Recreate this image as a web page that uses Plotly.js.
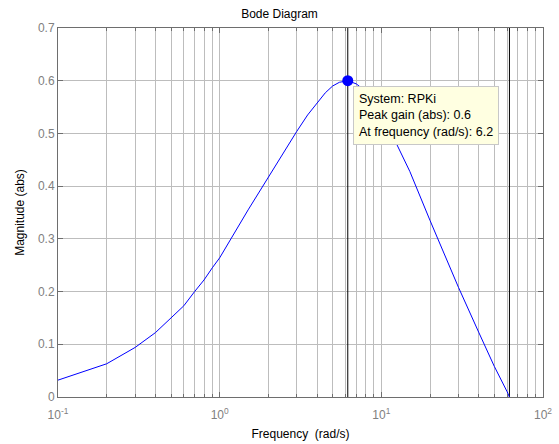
<!DOCTYPE html>
<html>
<head>
<meta charset="utf-8">
<script src="https://cdn.plot.ly/plotly-3.0.1.min.js"></script>
<style>
  html, body { margin: 0; padding: 0; background: #fff; }
  #chart { width: 559px; height: 444px; }
</style>
</head>
<body>
<div id="chart"></div>
<script>
// Magnitude response of RPKi (abs), sampled frequencies in rad/s
const freq = [0.1, 0.2, 0.3, 0.4, 0.5, 0.6, 0.7, 0.8, 0.9, 1,
              1.5, 2, 2.5, 3, 3.5, 4, 4.5, 5, 5.5, 6.2, 7, 8, 9, 10,
              15, 20, 30, 40, 50, 60, 62];
const magnitude = [0.032, 0.063, 0.094, 0.122, 0.150, 0.173, 0.200, 0.222, 0.245, 0.264,
                   0.355, 0.417, 0.466, 0.504, 0.535, 0.558, 0.577, 0.590, 0.597, 0.600,
                   0.594, 0.580, 0.562, 0.540,
                   0.428, 0.335, 0.208, 0.123, 0.058, 0.010, 0.0];

// Peak gain marker
const peakFreq = [6.2];
const peakGain = [0.6];

// Vertical reference lines (rad/s)
const refLines = [6.2, 62];

// Axis ticks
const xMajorTicks = [0.1, 1, 10, 100];
const xMajorLabels = ['10<sup>-1</sup>', '10<sup>0</sup>', '10<sup>1</sup>', '10<sup>2</sup>'];
const xMinorTicks = [0.2, 0.3, 0.4, 0.5, 0.6, 0.7, 0.8, 0.9,
                     2, 3, 4, 5, 6, 7, 8, 9,
                     20, 30, 40, 50, 60, 70, 80, 90];
const yTicks = [0, 0.1, 0.2, 0.3, 0.4, 0.5, 0.6, 0.7];
const yLabels = ['0', '0.1', '0.2', '0.3', '0.4', '0.5', '0.6', '0.7'];

const font = 'Arial, "Liberation Sans", sans-serif';
const gridColor = '#bdbdbd';
const frameColor = '#6e6e6e';

const traces = [];
refLines.forEach(f => {
  traces.push({
    x: [f, f], y: [0, 0.7], mode: 'lines',
    line: { color: '#000', width: 1 }, hoverinfo: 'skip', showlegend: false
  });
});
traces.push({
  x: freq, y: magnitude, mode: 'lines',
  line: { color: '#0000ff', width: 1 }, showlegend: false
});
traces.push({
  x: peakFreq, y: peakGain, mode: 'markers',
  marker: { color: '#0000ff', size: 11 }, showlegend: false
});

const layout = {
  width: 559, height: 444,
  margin: { l: 58, r: 16, t: 28, b: 47 },
  paper_bgcolor: '#fff', plot_bgcolor: '#fff',
  font: { family: font, size: 12, color: '#000' },
  title: { text: 'Bode Diagram', font: { family: font, size: 12, color: '#000' },
           x: 0.5, xanchor: 'center', y: 1 - 14 / 444, yanchor: 'middle' },
  xaxis: {
    type: 'log', range: [-1, 2],
    tickmode: 'array', tickvals: xMajorTicks, ticktext: xMajorLabels,
    ticks: 'inside', ticklen: 5, tickcolor: frameColor,
    tickfont: { family: font, size: 12, color: '#808080' },
    ticklabelstandoff: 7,
    showgrid: true, gridcolor: gridColor, gridwidth: 1,
    minor: { tickmode: 'array', tickvals: xMinorTicks, ticks: 'inside', ticklen: 3,
             tickcolor: frameColor, showgrid: true, gridcolor: gridColor, gridwidth: 1 },
    showline: true, linecolor: frameColor, linewidth: 1, mirror: 'allticks',
    zeroline: false,
    title: { text: 'Frequency  (rad/s)', font: { family: font, size: 12, color: '#000' }, standoff: 8 }
  },
  yaxis: {
    range: [0, 0.7],
    tickmode: 'array', tickvals: yTicks, ticktext: yLabels,
    ticks: 'inside', ticklen: 5, tickcolor: frameColor,
    tickfont: { family: font, size: 12, color: '#808080' },
    showgrid: true, gridcolor: gridColor, gridwidth: 1,
    showline: true, linecolor: frameColor, linewidth: 1, mirror: 'allticks',
    zeroline: false,
    title: { text: 'Magnitude (abs)', font: { family: font, size: 12, color: '#000' }, standoff: 10 }
  },
  annotations: [{
    xref: 'x', yref: 'y',
    x: Math.log10(peakFreq[0]), y: peakGain[0],
    xanchor: 'left', yanchor: 'top', xshift: 5, yshift: -5,
    showarrow: false, align: 'left',
    text: 'System: RPKi<br>Peak gain (abs): ' + peakGain[0] + '<br>At frequency (rad/s): ' + peakFreq[0],
    font: { family: font, size: 12.5, color: '#000' },
    bgcolor: '#ffffe1', bordercolor: '#c8c8c8', borderwidth: 1, borderpad: 5
  }]
};

Plotly.newPlot('chart', traces, layout, { displayModeBar: false, staticPlot: true });
</script>
</body>
</html>
